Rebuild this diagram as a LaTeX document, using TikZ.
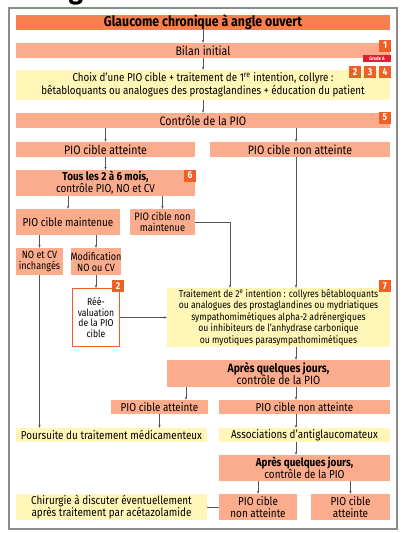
\documentclass[tikz,border=0pt]{standalone}
\usepackage{fontspec}
\setmainfont{Fira Sans}[FakeStretch=0.86]
\usetikzlibrary{arrows.meta}
\definecolor{hdr}{RGB}{247,128,78}
\definecolor{sal}{RGB}{250,172,140}
\definecolor{yel}{RGB}{255,246,183}
\definecolor{bdg}{RGB}{240,95,35}
\definecolor{grd}{RGB}{226,30,50}
\definecolor{lin}{RGB}{85,85,85}
\definecolor{frm}{RGB}{140,140,140}
\begin{document}
\begin{tikzpicture}[x=1pt,y=-1pt,
  box/.style={inner sep=0pt, align=center, font=\fontsize{11.5}{12}\selectfont, text=black},
  hbox/.style={box, fill=hdr},
  sbox/.style={box, fill=sal},
  ybox/.style={box, fill=yel},
  badge/.style={inner sep=0pt, fill=bdg, text=white, font=\fontsize{10}{10}\selectfont\bfseries, minimum width=12, minimum height=12},
  arr/.style={draw=lin, line width=0.6pt, -{Stealth[length=3pt,width=2.4pt]}},
  ln/.style={draw=lin, line width=0.6pt}
]
\useasboundingbox (0,0) rectangle (408,533);
% cropped title letter
\node[anchor=base, font=\fontsize{30}{30}\selectfont\bfseries, inner sep=0pt] (gfrag) at (76,-2) {g};
% frame
\draw[frm, line width=1.2pt] (9,8) rectangle (397,529);

\node[hbox, minimum width=374, minimum height=15, font=\fontsize{14.3}{14.5}\selectfont\bfseries] (head) at (203,22.5) {Glaucome chronique à angle ouvert};
\node[sbox, minimum width=374, minimum height=15, font=\fontsize{12.3}{13}\selectfont] (bilan) at (203,50.5) {Bilan initial};
\node[ybox, minimum width=374, minimum height=30, font=\fontsize{11.4}{12.8}\selectfont] (choix) at (203,85) {Choix d'une PIO cible + traitement de 1\textsuperscript{re} intention, collyre :\\bêtabloquants ou analogues des prostaglandines + éducation du patient};
\node[sbox, minimum width=374, minimum height=15, font=\fontsize{12.3}{13}\selectfont] (ctrl) at (203,120.5) {Contrôle de la PIO};
\node[sbox, minimum width=179, minimum height=15, font=\fontsize{12.3}{13}\selectfont] (att1) at (105.5,149.5) {PIO cible atteinte};
\node[sbox, minimum width=180, minimum height=15, font=\fontsize{12.3}{13}\selectfont] (natt1) at (300,149.5) {PIO cible non atteinte};
\node[sbox, minimum width=179, minimum height=26] (tous) at (105.5,183) {\bfseries Tous les 2 à 6 mois,\\contrôle PIO, NO et CV};
\node[sbox, minimum width=104, minimum height=26] (maint) at (68,222) {PIO cible maintenue};
\node[sbox, minimum width=65, minimum height=26, font=\fontsize{10.8}{11.5}\selectfont] (nmaint) at (162.5,222) {PIO cible non\\maintenue};
\node[sbox, minimum width=47, minimum height=27, font=\fontsize{10.5}{11}\selectfont] (nocv) at (39.5,261.5) {NO et CV\\inchangés};
\node[sbox, minimum width=48, minimum height=27, font=\fontsize{10.5}{11}\selectfont] (modif) at (96,261.5) {Modification\\NO ou CV};
\node[box, draw=bdg, line width=1.2pt, fill=white, minimum width=47, minimum height=58, font=\fontsize{10}{10.7}\selectfont] (reev) at (96,317.5) {Réé-\\valuation\\de la PIO\\cible};
\node[ybox, minimum width=223, minimum height=59, font=\fontsize{10}{11.5}\selectfont] (trait) at (278.5,317.5) {Traitement de 2\textsuperscript{e} intention : collyres bêtabloquants\\ou analogues des prostaglandines ou mydriatiques\\sympathomimétiques alpha-2 adrénergiques\\ou inhibiteurs de l'anhydrase carbonique\\ou myotiques parasympathomimétiques};
\node[sbox, minimum width=223, minimum height=27, font=\fontsize{12}{12.5}\selectfont] (apres1) at (278.5,373.5) {\bfseries Après quelques jours,\\contrôle de la PIO};
\node[sbox, minimum width=97, minimum height=14] (att2) at (159.5,407) {PIO cible atteinte};
\node[sbox, minimum width=171, minimum height=14] (natt2) at (304.5,407) {PIO cible non atteinte};
\node[ybox, minimum width=191, minimum height=14] (pours) at (111.5,435) {Poursuite du traitement médicamenteux};
\node[ybox, minimum width=171, minimum height=14] (assoc) at (304.5,435) {Associations d'antiglaucomateux};
\node[sbox, minimum width=171, minimum height=26] (apres2) at (304.5,468) {\bfseries Après quelques jours,\\contrôle de la PIO};
\node[sbox, minimum width=78, minimum height=26] (natt3) at (258,507) {PIO cible\\non atteinte};
\node[sbox, minimum width=79, minimum height=26] (att3) at (350.5,507) {PIO cible\\atteinte};
\node[ybox, minimum width=191, minimum height=26] (chir) at (111.5,507) {Chirurgie à discuter éventuellement\\après traitement par acétazolamide};

% badges
\node[badge] (b1) at (385,45.5) {1};
\node[inner sep=0pt, fill=grd, text=white, font=\fontsize{5}{5}\selectfont\bfseries, minimum width=28, minimum height=7] (grade) at (377,58.5) {Grade A};
\node[badge] (b2) at (355,72) {2};
\node[badge] (b3) at (370,72) {3};
\node[badge] (b4) at (385,72) {4};
\node[badge] (b5) at (385,117.5) {5};
\node[badge] (b6) at (190,175.5) {6};
\node[badge] (b2b) at (118,286) {2};
\node[badge] (b7) at (385,286) {7};

% helper columns
\coordinate (c296) at (296,0);
\coordinate (c230) at (230,0);
\coordinate (c186) at (186,0);

% connectors
\draw[arr] (head) -- (bilan);
\draw[arr] (bilan) -- (choix);
\draw[arr] (choix) -- (ctrl);
\draw[arr] (ctrl.south -| att1.north) -- (att1.north);
\draw[arr] (ctrl.south -| c296) -- (natt1.north -| c296);
\draw[arr] (att1) -- (tous);
\draw[arr] (tous.south -| maint.north) -- (maint.north);
\draw[arr] (tous.south -| nmaint.north) -- (nmaint.north);
\draw[arr] (maint.south -| nocv.north) -- (nocv.north);
\draw[arr] (maint.south -| modif.north) -- (modif.north);
\draw[arr] (modif) -- (reev);
\draw[arr] (nmaint.east) -| (trait.north -| c230);
\draw[arr] (natt1.south -| c296) -- (trait.north -| c296);
\draw[arr] (reev.east) -- (reev.east -| trait.west);
\draw[arr] (trait.south -| c296) -- (apres1.north -| c296);
\draw[arr] (apres1.south -| c186) -- (att2.north -| c186);
\draw[arr] (apres1.south -| c296) -- (natt2.north -| c296);
\draw[arr] (nocv.south) -- (pours.north -| nocv.south);
\draw[arr] (att2.south) -- (pours.north -| att2.south);
\draw[arr] (natt2.south -| c296) -- (assoc.north -| c296);
\draw[arr] (assoc.south -| c296) -- (apres2.north -| c296);
\draw[arr] (apres2.south -| natt3.north) -- (natt3.north);
\draw[arr] (apres2.south -| att3.north) -- (att3.north);
\draw[ln] (natt3.west) -- (chir.east);
\end{tikzpicture}
\end{document}
